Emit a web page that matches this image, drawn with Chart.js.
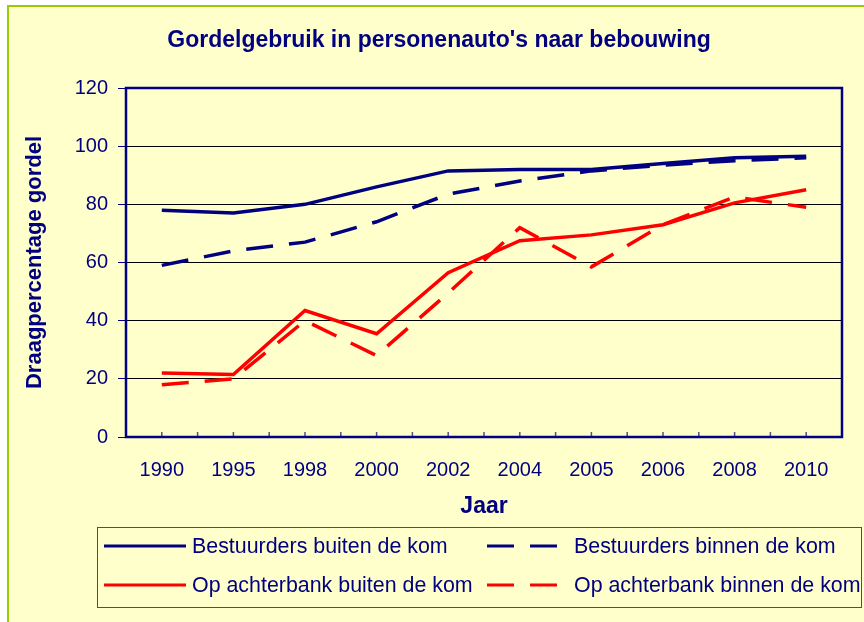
<!DOCTYPE html>
<html>
<head>
<meta charset="utf-8">
<script src="https://cdn.jsdelivr.net/npm/chart.js@4/dist/chart.umd.min.js"></script>
<style>
  html, body { margin: 0; padding: 0; background: #fff; }
  canvas { display: block; }
</style>
</head>
<body>
<canvas id="chart" width="864" height="622"></canvas>
<script>
const years = ["1990", "1995", "1998", "2000", "2002", "2004", "2005", "2006", "2008", "2010"];

const driversOutside = [78, 77, 80, 86, 91.5, 92, 92, 94, 96, 96.5];
const driversInside = [59, 64, 67, 74, 83.5, 88, 91.5, 93.5, 95, 96];
const rearOutside = [22, 21.5, 43.5, 35.5, 56.5, 67.5, 69.5, 73, 80.5, 85];
const rearInside = [18, 20, 40, 28, 49.5, 72, 58.5, 73, 82.5, 79];

const seriesNames = [
  "Bestuurders buiten de kom",
  "Bestuurders binnen de kom",
  "Op achterbank buiten de kom",
  "Op achterbank binnen de kom"
];

const yTicks = [0, 20, 40, 60, 80, 100, 120];

const NAVY = "#000080";
const RED = "#ff0000";
const FONT = "Arial, 'Liberation Sans', sans-serif";
const DASH = [27, 16];

function line(label, data, color, dashed, order) {
  return {
    label,
    data,
    borderColor: color,
    backgroundColor: color,
    borderWidth: 3.5,
    borderDash: dashed ? DASH : [],
    borderCapStyle: "butt",
    pointRadius: 0,
    tension: 0,
    fill: false,
    order
  };
}

// background, frame, small x ticks, title and legend box
const decor = {
  id: "decor",
  beforeDraw(chart) {
    const ctx = chart.ctx;
    ctx.save();
    ctx.fillStyle = "#ffffff";
    ctx.fillRect(0, 0, chart.width, chart.height);
    ctx.fillStyle = "#ffffcc";
    ctx.fillRect(7, 5, chart.width - 7, chart.height - 5);
    ctx.fillStyle = "#99cc00";
    ctx.fillRect(7, 5, chart.width - 7, 2);
    ctx.fillRect(7, 5, 2, chart.height - 5);

    ctx.fillStyle = NAVY;
    ctx.font = "bold 23px " + FONT;
    ctx.textAlign = "center";
    ctx.textBaseline = "middle";
    ctx.fillText("Gordelgebruik in personenauto's naar bebouwing", 439, 41);
    ctx.restore();
  },
  afterDatasetsDraw(chart) {
    const ctx = chart.ctx;
    const a = chart.chartArea;
    const x = chart.scales.x;
    ctx.save();

    const half = (x.getPixelForValue(1) - x.getPixelForValue(0)) / 2;
    ctx.strokeStyle = "#50508f";
    ctx.lineWidth = 1.5;
    ctx.beginPath();
    years.forEach((y, i) => {
      const c = x.getPixelForValue(i);
      [c, c + half].forEach(px => {
        if (px < a.right - 2) {
          ctx.moveTo(px, a.bottom);
          ctx.lineTo(px, a.bottom - 5);
        }
      });
    });
    ctx.stroke();

    ctx.strokeStyle = NAVY;
    ctx.lineWidth = 2.5;
    ctx.strokeRect(a.left, a.top, a.right - a.left, a.bottom - a.top);
    ctx.restore();
  },
  afterDraw(chart) {
    const ctx = chart.ctx;
    ctx.save();
    ctx.strokeStyle = "#4646a0";
    ctx.lineWidth = 1;
    ctx.strokeRect(97.5, 527.5, 764, 80);

    const lineX = [[104, 186], [487, 558]];
    const textX = [192, 574];
    const rowY = [546, 585];

    ctx.font = "21.4px " + FONT;
    ctx.textAlign = "left";
    ctx.textBaseline = "middle";
    chart.data.datasets.forEach((ds, i) => {
      const col = i % 2;
      const row = Math.floor(i / 2);
      ctx.strokeStyle = ds.borderColor;
      ctx.lineWidth = 3;
      ctx.setLineDash(ds.borderDash);
      ctx.beginPath();
      ctx.moveTo(lineX[col][0], rowY[row]);
      ctx.lineTo(lineX[col][1], rowY[row]);
      ctx.stroke();
      ctx.setLineDash([]);
      ctx.fillStyle = NAVY;
      ctx.fillText(ds.label, textX[col], rowY[row] + 1.5);
    });
    ctx.restore();
  }
};

function render() {
  const ctx = document.getElementById("chart");

  new Chart(ctx, {
    type: "line",
    data: {
      labels: years,
      datasets: [
        line(seriesNames[0], driversOutside, NAVY, false, 3),
        line(seriesNames[1], driversInside, NAVY, true, 2),
        line(seriesNames[2], rearOutside, RED, false, 1),
        line(seriesNames[3], rearInside, RED, true, 0)
      ]
    },
    options: {
      responsive: false,
      animation: false,
      devicePixelRatio: 1,
      layout: { padding: { left: 8, top: 88, right: 22, bottom: 100 } },
      plugins: {
        legend: { display: false },
        tooltip: { enabled: false },
        title: { display: false }
      },
      scales: {
        x: {
          type: "category",
          offset: true,
          grid: { display: false, drawTicks: false },
          border: { display: false },
          ticks: { color: NAVY, font: { family: FONT, size: 20 }, padding: 21, maxRotation: 0 },
          title: {
            display: true,
            text: "Jaar",
            color: NAVY,
            font: { family: FONT, size: 23, weight: "bold" },
            padding: { top: 0, bottom: 2 }
          },
          afterFit(s) { s.height = 85; }
        },
        y: {
          min: 0,
          max: 120,
          afterBuildTicks(s) { s.ticks = yTicks.map(v => ({ value: v })); },
          grid: { color: "#000000", lineWidth: 1, tickLength: 8, tickColor: NAVY },
          border: { display: false },
          ticks: { color: NAVY, font: { family: FONT, size: 20 }, padding: 10 },
          title: {
            display: true,
            text: "Draagpercentage gordel",
            color: NAVY,
            font: { family: FONT, size: 22, weight: "bold" },
            padding: { top: 14, bottom: 0 }
          },
          afterFit(s) { s.width = 118; }
        }
      }
    },
    plugins: [decor]
  });
}

render();
</script>
</body>
</html>
